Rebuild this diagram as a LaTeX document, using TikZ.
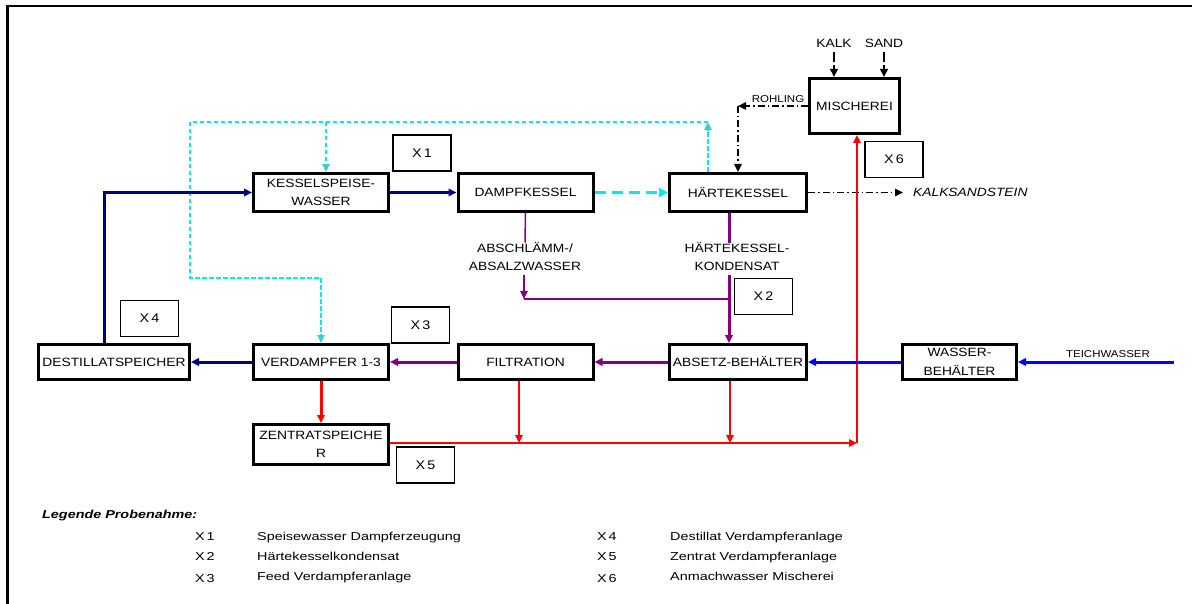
\documentclass[tikz,border=0pt]{standalone}
\usepackage{fontspec}
\setmainfont{Liberation Sans}
\newfontfamily\boxfont{Liberation Sans}[FakeStretch=1.15]
\newfontfamily\legfont{Liberation Sans}[FakeStretch=1.25]
\usetikzlibrary{arrows.meta}

\definecolor{navyflow}{RGB}{0,0,128}
\definecolor{cyanflow}{RGB}{0,235,235}
\definecolor{cyantip}{RGB}{60,205,205}
\definecolor{purpflow}{RGB}{128,0,128}
\definecolor{redflow}{RGB}{255,0,0}
\definecolor{blueflow}{RGB}{0,0,255}

\tikzset{
  unit/.style={draw, line width=3pt, minimum width=135pt, minimum height=38pt,
    inner sep=0pt, align=center, font=\boxfont\fontsize{12}{18.5}\selectfont},
  probe/.style={draw, line width=1.5pt, minimum width=58pt, minimum height=36pt,
    inner sep=0pt, font=\boxfont\fontsize{12.5}{15}\selectfont},
  lbl/.style={inner sep=0pt, align=center, font=\boxfont\fontsize{12}{18}\selectfont},
  leg/.style={inner sep=0pt, anchor=base west, font=\legfont\fontsize{11.5}{14}\selectfont},
  bigtip/.style={-{Triangle[length=9pt,width=9pt]}},
  tip/.style={-{Triangle[length=8pt,width=7.5pt]}},
  cytip/.style={-{Triangle[length=8pt,width=7.5pt,color=cyantip,fill=cyantip]}},
  navyline/.style={draw=navyflow, line width=3pt},
  cythick/.style={draw=cyanflow, line width=3pt, dash pattern=on 11pt off 6pt},
  cythin/.style={draw=cyanflow, line width=1.5pt, dash pattern=on 4.5pt off 2.5pt},
  purthin/.style={draw=purpflow, line width=1.5pt},
  purmid/.style={draw=purpflow, line width=2pt},
  purthick/.style={draw=purpflow, line width=3pt},
  redthin/.style={draw=redflow, line width=1.5pt},
  redthick/.style={draw=redflow, line width=3pt},
  blueline/.style={draw=blueflow, line width=3pt},
  dashdot/.style={draw=black, line width=1.5pt, dash pattern=on 7pt off 3pt on 1.5pt off 3pt},
  feedline/.style={draw=black, line width=2pt, dash pattern=on 10pt off 3pt},
}

\begin{document}
\begin{tikzpicture}[x=1pt,y=-1pt]
\useasboundingbox (0,0) rectangle (1192,604);
\draw[line width=2.5pt] (7.5,604) -- (7.5,6) -- (1192,6);

% process units
\node[unit] (ks) at (321,192.5) {KESSELSPEISE-\\WASSER};
\node[unit] (dk) at (525.5,192.5) {DAMPFKESSEL};
\node[unit, minimum width=137pt] (hk) at (738,192.5) {HÄRTEKESSEL};
\node[unit, minimum width=90pt, minimum height=55pt] (mi) at (854.5,106) {MISCHEREI};
\node[unit, minimum width=151pt, minimum height=35pt] (ds) at (114,362) {DESTILLATSPEICHER};
\node[unit, minimum height=35pt] (vd) at (321,362) {VERDAMPFER 1-3};
\node[unit, minimum height=35pt] (fi) at (525.5,362) {FILTRATION};
\node[unit, minimum width=137pt, minimum height=35pt] (ab) at (738,362) {ABSETZ-BEHÄLTER};
\node[unit, minimum width=114pt, minimum height=35pt] (wb) at (959.5,362) {WASSER-\\BEHÄLTER};
\node[unit, minimum height=40pt] (zs) at (321,444.5) {ZENTRATSPEICHE\\R};

% sampling points
\node[probe] (x1) at (422,153) {X\,1};
\node[probe] (x2) at (763.5,296.5) {X\,2};
\node[probe] (x3) at (420.5,325) {X\,3};
\node[probe] (x4) at (149.5,318.5) {X\,4};
\node[probe] (x5) at (425.5,465) {X\,5};
\node[probe] (x6) at (894,159.5) {X\,6};

% stream labels
\node[lbl] (kalk) at (834,43) {KALK};
\node[lbl] (sand) at (884,43) {SAND};
\node[lbl, font=\boxfont\fontsize{10}{12}\selectfont] (roh) at (778,99) {ROHLING};
\node[lbl, anchor=west, font=\boxfont\itshape\fontsize{12}{14}\selectfont] (kss) at (913,192.5) {KALKSANDSTEIN};
\node[lbl] (l1) at (525,257) {ABSCHLÄMM-/\\ABSALZWASSER};
\node[lbl] (l2) at (737,257) {HÄRTEKESSEL-\\KONDENSAT};
\node[lbl, font=\boxfont\fontsize{10}{12}\selectfont] (tw) at (1108,354) {TEICHWASSER};

% helper points of the routed lines
\coordinate (nv) at (104,0);
\coordinate (cyTop) at (708,122);
\coordinate (cyLeft) at (190,122);
\coordinate (cyLow) at (190,278);
\coordinate (cyKs) at (326,122);
\coordinate (pj) at (524,299);
\coordinate (pv) at (729,0);
\coordinate (rc) at (857,443);
\coordinate (rf) at (519,0);
\coordinate (ra) at (730,0);
\coordinate (twin) at (1174,362);

% steam return (dashed cyan)
\draw[cythick, bigtip] (dk.east) -- (hk.west);
\draw[cythin, cytip] (hk.north -| cyTop) -- (cyTop);
\draw[cythin, cytip] (cyTop) -- (cyLeft) -- (cyLow) -| (vd.north);
\draw[cythin, cytip] (cyKs) -- (ks.north -| cyKs);

% distillate / feed water (navy)
\draw[navyline, tip] (ds.north -| nv) |- (ks.west);
\draw[navyline, tip] (ks.east) -- (dk.west);
\draw[navyline, tip] (vd.west) -- (ds.east);

% raw materials and product (black)
\draw[feedline, tip, shorten <=5pt] (kalk.south) -- (kalk.south |- mi.north);
\draw[feedline, tip, shorten <=5pt] (sand.south) -- (sand.south |- mi.north);
\draw[dashdot, tip] (mi.west) -- (mi.west -| hk.north);
\draw[dashdot, tip] (mi.west -| hk.north) -- (hk.north);
\draw[dashdot, tip, shorten >=10pt] (hk.east) -- (kss.west);

% blowdown and condensate (purple)
\draw[purthin] (dk.south) -- (l1.north);
\draw[purthin, tip, shorten <=4pt] (l1.south -| pj) -- (pj);
\draw[purmid] (pj) -- (pj -| pv);
\draw[purthick] (hk.south -| pv) -- (l2.north -| pv);
\draw[purthick, tip, shorten <=4pt] (l2.south -| pv) -- (ab.north -| pv);
\draw[purthick, tip] (ab.west) -- (fi.east);
\draw[purthick, tip] (fi.west) -- (vd.east);

% concentrate and make-up water (red)
\draw[redthick, tip] (vd.south) -- (zs.north);
\draw[redthin, tip] (zs.east |- rc) -- (rc);
\draw[redthin, tip] (fi.south -| rf) -- (rc -| rf);
\draw[redthin, tip] (ab.south -| ra) -- (rc -| ra);
\draw[redthin, tip] (rc) -- (mi.south -| rc);

% pond water (blue)
\draw[blueline, tip] (twin) -- (wb.east);
\draw[blueline, tip] (wb.west) -- (ab.east);

% legend
\node[leg] (lh) at (42,518) {\bfseries\itshape Legende Probenahme:};
\node[leg] (k1) at (195,540) {X\,1};
\node[leg] (t1) at (257,540) {Speisewasser Dampferzeugung};
\node[leg] (k2) at (195,560) {X\,2};
\node[leg] (t2) at (257,560) {Härtekesselkondensat};
\node[leg] (k3) at (195,582) {X\,3};
\node[leg] (t3) at (257,580) {Feed Verdampferanlage};
\node[leg] (k4) at (597,540) {X\,4};
\node[leg] (t4) at (670,540) {Destillat Verdampferanlage};
\node[leg] (k5) at (597,560) {X\,5};
\node[leg] (t5) at (670,560) {Zentrat Verdampferanlage};
\node[leg] (k6) at (597,582) {X\,6};
\node[leg] (t6) at (670,580) {Anmachwasser Mischerei};
\end{tikzpicture}
\end{document}
